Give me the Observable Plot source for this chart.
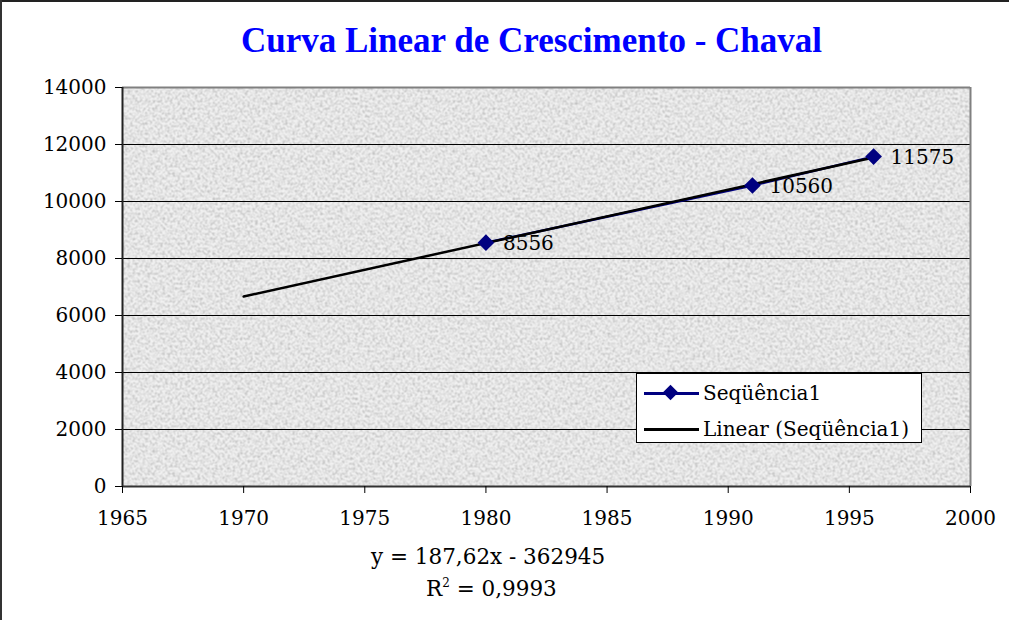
<!DOCTYPE html>
<html>
<head>
<meta charset="utf-8">
<script src="https://cdn.jsdelivr.net/npm/d3@7"></script>
<script src="https://cdn.jsdelivr.net/npm/@observablehq/plot@0.6"></script>
<style>
  html, body { margin: 0; padding: 0; background: #fff; }
  #wrap { position: relative; width: 1009px; height: 620px; overflow: hidden; font-family: "DejaVu Serif", serif; }
  #wrap svg { position: absolute; left: 0; top: 0; }
  .border-top { position: absolute; left: 0; top: 0; width: 1009px; height: 2px; background: #222; }
  .border-left { position: absolute; left: 0; top: 0; width: 2px; height: 620px; background: #333; }
  #title { position: absolute; left: 0; width: 1063px; top: 21px; text-align: center; font-family: "Liberation Serif", serif; font-weight: bold; font-size: 35px; color: #0000ff; line-height: 40px; }
  #legend { position: absolute; left: 636px; top: 373px; width: 284px; height: 68px; background: #fff; border: 1px solid #000; }
  .lrow { position: absolute; left: 0; height: 30px; width: 284px; font-size: 20px; line-height: 30px; color: #000; }
  .lrow .sw { position: absolute; left: 7px; top: 14px; width: 55px; height: 2.5px; }
  .lrow .dm { position: absolute; left: 28px; top: 9px; width: 11px; height: 11px; background: #000080; transform: rotate(45deg); }
  .lrow .tx { position: absolute; left: 66px; top: 0; white-space: nowrap; }
  #eq { position: absolute; left: 0; width: 979px; text-align: center; font-size: 21.5px; color: #000; }
  #eq div { position: absolute; white-space: nowrap; }
</style>
</head>
<body>
<svg width="0" height="0" style="position:absolute">
  <defs>
    <filter id="noiseF" x="0" y="0" width="100%" height="100%">
      <feTurbulence type="fractalNoise" baseFrequency="0.4" numOctaves="2" seed="7" result="n"/>
      <feColorMatrix type="matrix" in="n" values="0 0 0 0 0  0 0 0 0 0  0 0 0 0 0  1.3 0 0 0 -0.52"/>
    </filter>
    <pattern id="tex" patternUnits="userSpaceOnUse" width="300" height="300">
      <rect width="300" height="300" fill="#f1f1f1"/>
      <rect width="300" height="300" fill="#000" filter="url(#noiseF)" opacity="0.38"/>
    </pattern>
  </defs>
</svg>
<div id="wrap">
  <div class="border-top"></div>
  <div class="border-left"></div>
  <div id="title">Curva Linear de Crescimento - Chaval</div>
</div>
<script>
// ---- data ----
const years = [1980, 1991, 1996];
const values = [8556, 10560, 11575];
const trendYears = [1970, 1996];
const trendValues = [6666, 11545];
const xTicks = [1965, 1970, 1975, 1980, 1985, 1990, 1995, 2000];
const yTicks = [0, 2000, 4000, 6000, 8000, 10000, 12000, 14000];
const seriesName = "Seqüência1";
const trendName = "Linear (Seqüência1)";
const equation = "y = 187,62x - 362945";
const r2Value = "0,9993";

const pts = years.map((y, i) => ({year: y, value: values[i]}));
const trend = trendYears.map((y, i) => ({year: y, value: trendValues[i]}));

const chart = Plot.plot({
  width: 1009,
  height: 620,
  marginLeft: 122,
  marginRight: 39,
  marginTop: 87,
  marginBottom: 134,
  style: {fontFamily: "DejaVu Serif, serif", fontSize: "20px", background: "transparent", color: "#000"},
  x: {domain: [1965, 2000], label: null},
  y: {domain: [0, 14000], label: null},
  marks: [
    Plot.frame({fill: "url(#tex)", stroke: null}),
    Plot.ruleY(yTicks.filter(d => d > 0 && d < 14000), {stroke: "#000", strokeWidth: 1}),
    Plot.ruleY([14000], {stroke: "#808080", strokeWidth: 2}),
    Plot.ruleX([2000], {stroke: "#808080", strokeWidth: 2}),
    Plot.ruleX([1965], {stroke: "#222", strokeWidth: 2}),
    Plot.ruleY([0], {stroke: "#333", strokeWidth: 2}),
    Plot.axisX({ticks: xTicks, tickFormat: d => String(d), tickSize: 7, tickPadding: 17, stroke: "#000", fontSize: 20, fill: "#000"}),
    Plot.axisY({ticks: yTicks, tickFormat: d => String(d), tickSize: 7, tickPadding: 9, stroke: "#000", fontSize: 20, fill: "#000"}),
    Plot.line(pts, {x: "year", y: "value", stroke: "#000080", strokeWidth: 2.5}),
    Plot.line(trend, {x: "year", y: "value", stroke: "#000", strokeWidth: 2.5}),
    Plot.dot(pts, {x: "year", y: "value", symbol: "diamond2", r: 7.5, fill: "#000080", stroke: "none"}),
    Plot.text(pts, {x: "year", y: "value", text: d => String(d.value), textAnchor: "start", dx: 17, dy: 1, fontSize: 20, fill: "#000"})
  ]
});
document.getElementById("wrap").appendChild(chart);

// legend
const wrap = document.getElementById("wrap");
const title = document.getElementById("title");
wrap.appendChild(title);
const leg = document.createElement("div");
leg.id = "legend";
leg.innerHTML = `
  <div class="lrow" style="top:4px"><div class="sw" style="background:#000080"></div><div class="dm"></div><div class="tx">${seriesName}</div></div>
  <div class="lrow" style="top:40px"><div class="sw" style="background:#000"></div><div class="tx">${trendName}</div></div>`;
wrap.appendChild(leg);

const eq = document.createElement("div");
eq.id = "eq";
eq.innerHTML = `<div style="left:371px; top:544px">${equation}</div>
  <div style="left:426px; top:576px">R<sup style="font-size:12px; vertical-align: 9px">2</sup> = ${r2Value}</div>`;
wrap.appendChild(eq);
</script>
</body>
</html>
